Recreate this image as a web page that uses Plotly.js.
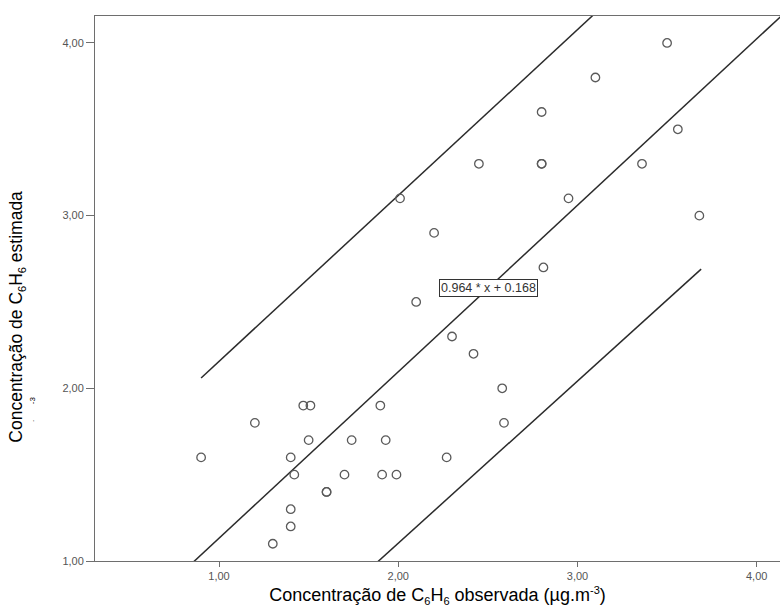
<!DOCTYPE html>
<html>
<head>
<meta charset="utf-8">
<script src="https://cdn.plot.ly/plotly-3.0.1.min.js"></script>
<style>html,body{margin:0;padding:0;background:#fff;}#chart{width:781px;height:616px;}</style>
</head>
<body>
<div id="chart"></div>
<script>
var observada = [0.90, 1.20, 1.30, 1.40, 1.40, 1.40, 1.42, 1.47, 1.51, 1.50, 1.60, 1.60, 1.70, 1.74, 1.90, 1.91, 1.93, 1.99,
                 2.01, 2.10, 2.20, 2.27, 2.30, 2.42, 2.45, 2.58, 2.59, 2.80, 2.80, 2.80, 2.81, 2.95, 3.10, 3.36, 3.50, 3.56, 3.68];
var estimada  = [1.60, 1.80, 1.10, 1.60, 1.30, 1.20, 1.50, 1.90, 1.90, 1.70, 1.40, 1.40, 1.50, 1.70, 1.90, 1.50, 1.70, 1.50,
                 3.10, 2.50, 2.90, 1.60, 2.30, 2.20, 3.30, 2.00, 1.80, 3.60, 3.30, 3.30, 2.70, 3.10, 3.80, 3.30, 4.00, 3.50, 3.00];

// Fit line coefficients (label in the chart)
var slope = 0.964;
var intercept = 0.168;
var fitX = [0.30, 4.20];

// Prediction-interval lines, endpoints
var upperX = [0.90, 3.69];
var upperY = [2.06, 4.74];
var lowerX = [0.90, 3.69];
var lowerY = [0.07, 2.69];

var xTicks = [1, 2, 3, 4];
var yTicks = [1, 2, 3, 4];

var fitY = fitX.map(function (x) { return slope * x + intercept; });
var lineStyle = {color: '#2b2b2b', width: 1.5};
var font = 'Arial, "Liberation Sans", sans-serif';
function sub(t) { return '<sub><span style="font-size:11px">' + t + '</span></sub>'; }
function sup(t) { return '<sup><span style="font-size:11px">' + t + '</span></sup>'; }

var traces = [
  {x: fitX, y: fitY, mode: 'lines', line: lineStyle, hoverinfo: 'skip', showlegend: false},
  {x: upperX, y: upperY, mode: 'lines', line: lineStyle, hoverinfo: 'skip', showlegend: false},
  {x: lowerX, y: lowerY, mode: 'lines', line: lineStyle, hoverinfo: 'skip', showlegend: false},
  {x: observada, y: estimada, mode: 'markers', type: 'scatter', showlegend: false,
   marker: {symbol: 'circle-open', size: 8.5, color: '#5a5a5a', line: {width: 1.3, color: '#5a5a5a'}}}
];

var layout = {
  width: 781, height: 616,
  margin: {l: 95, r: 1, t: 16, b: 55},
  paper_bgcolor: '#ffffff', plot_bgcolor: '#ffffff',
  separators: ',.',
  font: {family: font, color: '#000000'},
  showlegend: false,
  xaxis: {
    range: [0.308, 4.13], tickvals: xTicks, tickformat: '.2f',
    showgrid: false, zeroline: false,
    showline: true, linecolor: '#6e6e6e', linewidth: 1, mirror: true,
    ticks: 'outside', ticklen: 5, tickcolor: '#6e6e6e', tickwidth: 1,
    tickfont: {family: font, size: 11, color: '#555555'},
    title: {text: 'Concentração de C' + sub('6') + 'H' + sub('6') + ' observada (µg.m' + sup('-3') + ')',
            font: {family: font, size: 18, color: '#000000'}, standoff: 7}
  },
  yaxis: {
    range: [1, 4.156], tickvals: yTicks, tickformat: '.2f',
    showgrid: false, zeroline: false,
    showline: true, linecolor: '#6e6e6e', linewidth: 1,
    ticks: 'outside', ticklen: 8, tickcolor: '#6e6e6e', tickwidth: 1,
    tickfont: {family: font, size: 11, color: '#555555'}
  },
  annotations: [
    {xref: 'x', yref: 'y', x: 2.501, y: 2.581, showarrow: false,
     text: slope.toFixed(3) + ' * x + ' + intercept.toFixed(3),
     font: {family: font, size: 12.5, color: '#333333'},
     bgcolor: '#ffffff', bordercolor: '#333333', borderwidth: 1, borderpad: 1},
    {xref: 'paper', yref: 'paper', x: -0.113, y: 0.4475, xanchor: 'center', yanchor: 'middle',
     showarrow: false, textangle: -90,
     text: 'Concentração de C' + sub('6') + 'H' + sub('6') + ' estimada',
     font: {family: font, size: 17.5, color: '#000000'}},
    {xref: 'paper', yref: 'paper', x: -0.092, y: 0.295, xanchor: 'center', yanchor: 'middle',
     showarrow: false, textangle: -90,
     text: '-3', font: {family: font, size: 8, color: '#000000'}},
    {xref: 'paper', yref: 'paper', x: -0.092, y: 0.257, xanchor: 'center', yanchor: 'middle',
     showarrow: false, textangle: -90,
     text: '.', font: {family: font, size: 8, color: '#000000'}}
  ]
};

Plotly.newPlot('chart', traces, layout, {displayModeBar: false, staticPlot: true});
</script>
</body>
</html>
